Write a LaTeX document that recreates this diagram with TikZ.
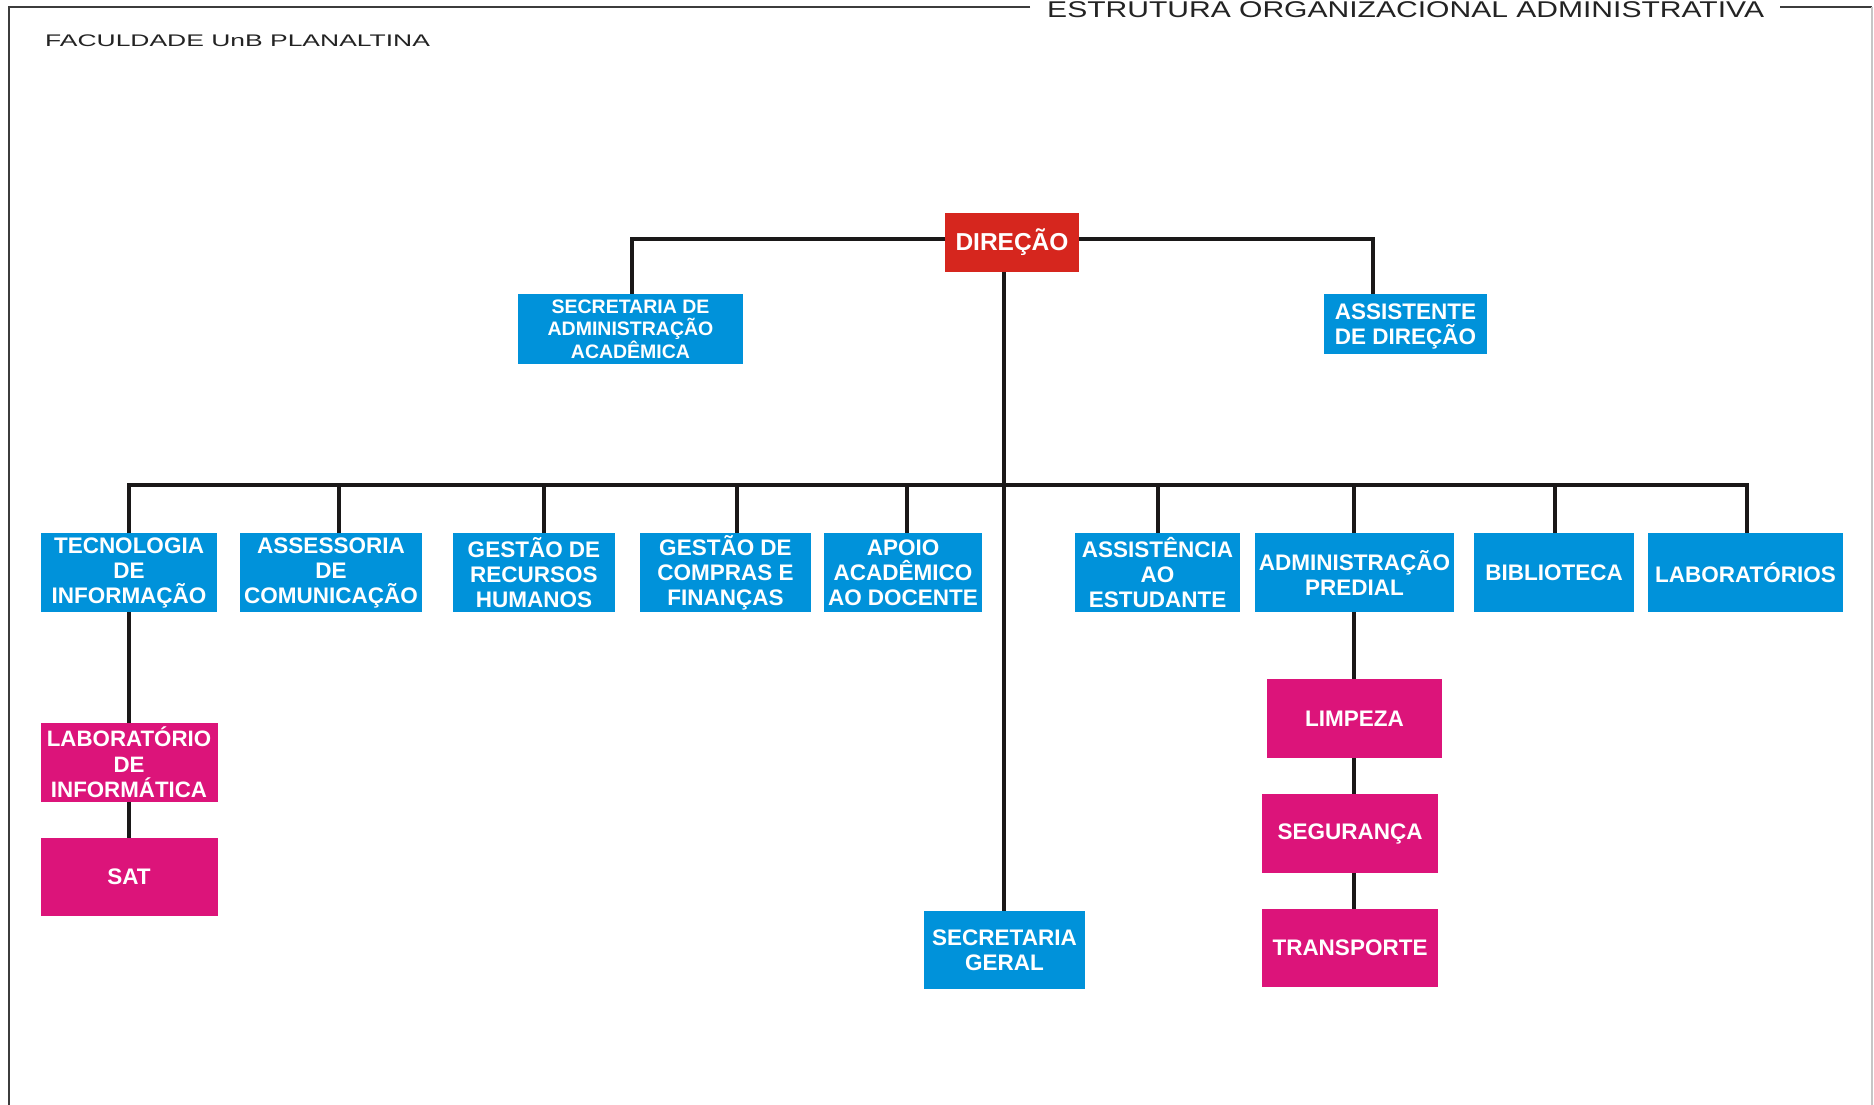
\documentclass[tikz,border=0pt]{standalone}
\usepackage{fontspec}
\setmainfont{Liberation Sans}
\usepackage{graphicx}
\definecolor{boxblue}{RGB}{0,146,218}
\definecolor{boxmag}{RGB}{220,20,122}
\definecolor{boxred}{RGB}{214,38,30}
\definecolor{linek}{RGB}{26,24,24}
\definecolor{framegray}{RGB}{60,60,60}
\definecolor{textgray}{RGB}{35,35,35}
\begin{document}
\begin{tikzpicture}[x=1pt,y=-1pt,
  orgbox/.style={rectangle, inner sep=0pt, outer sep=0pt, text=white, align=center,
    font=\bfseries\fontsize{22.5}{25}\selectfont},
  bluebox/.style={orgbox, fill=boxblue},
  magbox/.style={orgbox, fill=boxmag},
  rowbox/.style={bluebox, minimum height=79pt},
  conn/.style={draw=linek, line width=4.5pt, line join=miter},
  frameline/.style={draw=framegray, line width=2pt}]
\fill[white] (0,0) rectangle (1874,1105);
\useasboundingbox (0,0) rectangle (1874,1105);

% frame and titles
\draw[frameline] (1030,7) -- (9,7) -- (9,1105);
\draw[frameline] (1780,7) -- (1872,7);
\draw[draw=gray!45, line width=1.5pt] (1872,7) -- (1872,1105);
\node[anchor=base west, inner sep=0pt, text=textgray, font=\fontsize{22.8}{27}\selectfont] (title) at (1047,18)
  {\scalebox{1.318}[1]{ESTRUTURA ORGANIZACIONAL ADMINISTRATIVA}};
\node[anchor=base west, inner sep=0pt, text=textgray, font=\fontsize{16.8}{20}\selectfont] (fac) at (45,47)
  {\scalebox{1.575}[1]{FACULDADE UnB PLANALTINA}};

% top level
\node[orgbox, fill=boxred, minimum width=134pt, minimum height=59pt,
  font=\bfseries\fontsize{24.5}{28}\selectfont] (dir) at (1012,242.5) {DIREÇÃO};
\node[bluebox, minimum width=225pt, minimum height=70pt,
  font=\bfseries\fontsize{19.5}{22.5}\selectfont] (sa) at (630.5,329) {SECRETARIA DE\\ADMINISTRAÇÃO\\ACADÊMICA};
\node[bluebox, minimum width=163pt, minimum height=60pt, text depth=0pt] (as) at (1405.5,324) {ASSISTENTE\\DE DIREÇÃO};

% row
\node[rowbox, minimum width=176pt] (ti)  at (129,572.5)    {TECNOLOGIA\\DE\\INFORMAÇÃO};
\node[rowbox, minimum width=182pt] (asc) at (331,572.5)    {ASSESSORIA\\DE\\COMUNICAÇÃO};
\node[rowbox, minimum width=162pt] (rh)  at (534,572.5)    {GESTÃO DE\\RECURSOS\\HUMANOS};
\node[rowbox, minimum width=171pt] (cf)  at (725.5,572.5)  {GESTÃO DE\\COMPRAS E\\FINANÇAS};
\node[rowbox, minimum width=158pt] (ap)  at (903,572.5)    {APOIO\\ACADÊMICO\\AO DOCENTE};
\node[rowbox, minimum width=165pt] (ae)  at (1157.5,572.5) {ASSISTÊNCIA\\AO\\ESTUDANTE};
\node[rowbox, minimum width=199pt] (adm) at (1354.5,572.5) {ADMINISTRAÇÃO\\PREDIAL};
\node[rowbox, minimum width=160pt] (bib) at (1554,572.5)   {BIBLIOTECA};
\node[rowbox, minimum width=195pt] (lab) at (1745.5,572.5) {LABORATÓRIOS};

% lower
\node[magbox, minimum width=177pt, minimum height=79pt,
  font=\bfseries\fontsize{22.3}{25.5}\selectfont] (li) at (129,762.5) {LABORATÓRIO\\DE\\INFORMÁTICA};
\node[magbox, minimum width=177pt, minimum height=78pt] (sat) at (129,877) {SAT};
\node[magbox, minimum width=175pt, minimum height=79pt] (lim) at (1354.5,718.5) {LIMPEZA};
\node[magbox, minimum width=176pt, minimum height=79pt] (seg) at (1350,833.5) {SEGURANÇA};
\node[magbox, minimum width=176pt, minimum height=78pt] (tra) at (1350,948) {TRANSPORTE};
\node[bluebox, minimum width=161pt, minimum height=78pt] (sg) at (1004.5,950) {SECRETARIA\\GERAL};

% connectors
\coordinate (jL) at (632,239);
\coordinate (jR) at (1373,239);
\draw[conn] (dir.west |- jL) -- (jL) -- (jL |- sa.north);
\draw[conn] (dir.east |- jR) -- (jR) -- (jR |- as.north);
\coordinate (jD) at (1004,485);
\draw[conn] (jD |- dir.south) -- (jD |- sg.north);
\coordinate (bL) at (129,485);
\coordinate (bR) at (1747,485);
\draw[conn] (ti.north) -- (bL) -- (bR) -- (bR |- lab.north);
\foreach \xx/\nn in {339/asc, 544/rh, 737/cf, 907/ap, 1158/ae, 1354/adm, 1555/bib}{
  \coordinate (tt) at (\xx,485);
  \draw[conn] (tt) -- (tt |- \nn.north);
}
\draw[conn] (ti.south) -- (li.north);
\draw[conn] (li.south) -- (sat.north);
\coordinate (ax) at (1354,650);
\draw[conn] (ax |- adm.south) -- (ax |- lim.north);
\draw[conn] (ax |- lim.south) -- (ax |- seg.north);
\draw[conn] (ax |- seg.south) -- (ax |- tra.north);
\end{tikzpicture}
\end{document}
